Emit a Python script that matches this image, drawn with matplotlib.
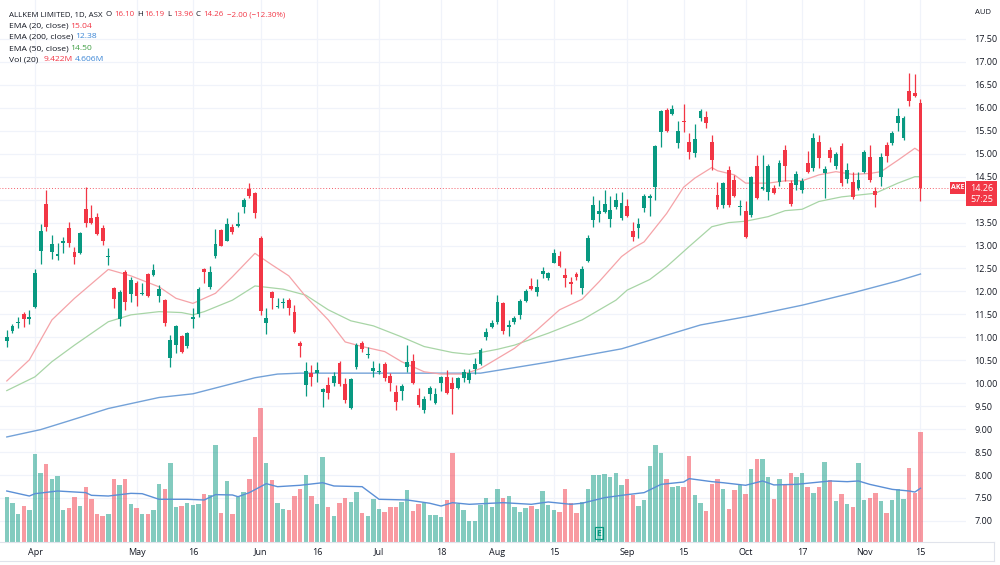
import numpy as np
import matplotlib
matplotlib.use('Agg')
import matplotlib.pyplot as plt
from matplotlib.patches import Rectangle
from matplotlib.lines import Line2D

plt.rcParams['font.family'] = ['Open Sans', 'DejaVu Sans']

# daily bars, 25 Mar 2022 .. 15 Nov 2022 (ASX trading days), index 0..162
opens = [10.91, 11.14, 11.31, 11.50, 11.40, 11.67, 12.89, 13.90, 12.85, 12.78,
         13.05, 13.39, 12.85, 12.84, 13.79, 13.59, 13.63, 13.38, 12.74, 12.08,
         11.41, 12.43, 11.94, 12.18, 11.95, 12.37, 12.36, 11.89, 11.81, 10.54,
         10.83, 11.04, 10.82, 11.41, 11.51, 12.49, 12.09, 12.78, 13.34, 13.10,
         13.41, 13.42, 13.83, 14.23, 14.15, 13.16, 11.32, 11.99, 11.66, 11.75,
         11.81, 11.56, 10.87, 9.96, 10.22, 10.22, 9.82, 9.96, 10.00, 10.45,
         9.98, 9.45, 10.35, 10.88, 10.61, 10.27, 10.24, 10.42, 10.16, 9.80,
         9.84, 10.35, 10.49, 9.74, 9.42, 9.76, 9.58, 10.00, 10.13, 10.00,
         9.90, 10.11, 10.07, 10.30, 10.43, 11.01, 11.23, 11.34, 11.75, 11.22,
         11.33, 11.49, 11.80, 12.12, 11.99, 12.38, 12.29, 12.63, 12.78, 12.36,
         12.21, 12.38, 12.07, 12.67, 13.56, 13.69, 13.74, 13.57, 13.85, 13.59,
         13.86, 13.32, 13.38, 13.81, 14.04, 14.28, 15.48, 15.95, 15.87, 15.23,
         15.72, 15.25, 15.01, 15.77, 15.79, 15.26, 14.10, 13.88, 14.65, 14.43,
         13.85, 13.76, 13.67, 14.73, 14.23, 14.17, 14.25, 14.39, 15.08, 14.37,
         14.32, 14.21, 14.79, 14.68, 15.26, 14.59, 15.08, 14.73, 15.17, 14.44,
         14.39, 14.26, 14.61, 14.94, 14.19, 14.49, 15.19, 15.23, 15.68, 15.34,
         16.37, 16.33, 16.10]
highs = [11.16, 11.29, 11.45, 11.56, 11.60, 12.49, 13.47, 14.20, 13.23, 13.05,
         13.19, 13.52, 12.96, 13.30, 14.27, 13.88, 13.72, 13.45, 12.94, 12.10,
         12.03, 12.47, 12.32, 12.23, 12.19, 12.41, 12.59, 12.14, 11.83, 11.05,
         11.27, 11.05, 11.12, 11.63, 12.09, 12.50, 12.55, 13.35, 13.35, 13.61,
         13.48, 13.74, 14.03, 14.37, 14.17, 13.21, 11.65, 12.02, 11.85, 11.85,
         11.86, 11.70, 10.91, 10.47, 10.40, 10.47, 9.89, 10.13, 10.25, 10.49,
         10.11, 10.11, 10.87, 10.91, 10.78, 10.49, 10.45, 10.47, 10.22, 9.96,
         9.98, 10.83, 10.63, 9.89, 9.72, 9.93, 9.89, 10.16, 10.29, 10.14,
         10.14, 10.31, 10.31, 10.56, 10.76, 11.20, 11.38, 11.92, 11.77, 11.38,
         11.47, 11.84, 12.05, 12.30, 12.27, 12.54, 12.43, 12.92, 12.88, 12.50,
         12.31, 12.43, 12.55, 13.23, 14.08, 13.99, 14.20, 14.08, 14.14, 14.17,
         14.01, 13.52, 13.59, 14.12, 14.12, 15.19, 15.95, 15.99, 16.06, 15.71,
         16.08, 15.45, 15.64, 15.97, 15.94, 15.41, 14.39, 14.39, 14.73, 14.54,
         13.99, 13.98, 14.52, 14.97, 14.97, 14.77, 14.31, 14.86, 15.19, 14.43,
         14.62, 14.47, 15.07, 15.45, 15.40, 14.73, 15.14, 15.03, 15.23, 14.80,
         14.61, 14.61, 15.08, 15.19, 14.28, 15.01, 15.26, 15.50, 15.99, 15.82,
         16.75, 16.73, 16.19]
lows = [10.80, 11.10, 11.20, 11.23, 11.29, 11.65, 12.60, 13.32, 12.70, 12.69,
        12.83, 12.96, 12.60, 12.82, 13.40, 13.48, 13.23, 13.01, 12.58, 11.63,
        11.25, 11.60, 11.78, 11.68, 11.92, 11.88, 12.34, 11.78, 11.25, 10.36,
        10.65, 10.65, 10.77, 11.20, 11.45, 12.19, 12.05, 12.72, 12.98, 13.09,
        13.26, 13.41, 13.70, 14.03, 13.61, 11.49, 11.07, 11.61, 11.63, 11.63,
        11.49, 11.10, 10.58, 9.73, 9.93, 10.03, 9.49, 9.65, 9.93, 9.93,
        9.56, 9.43, 10.30, 10.68, 10.54, 10.14, 10.20, 10.05, 9.84, 9.42,
        9.63, 10.25, 9.98, 9.48, 9.36, 9.63, 9.55, 9.84, 9.76, 9.33,
        9.87, 10.02, 10.00, 10.20, 10.40, 10.94, 11.20, 11.30, 11.08, 11.03,
        11.29, 11.40, 11.78, 12.03, 11.90, 12.30, 12.24, 12.61, 12.53, 12.10,
        11.94, 12.25, 11.94, 12.65, 13.41, 13.52, 13.70, 13.41, 13.80, 13.56,
        13.62, 13.11, 13.16, 13.74, 13.64, 13.99, 15.15, 15.48, 15.84, 15.13,
        15.48, 14.88, 14.92, 15.72, 15.56, 14.65, 13.79, 13.81, 13.85, 14.06,
        13.67, 13.16, 13.63, 14.01, 14.21, 13.99, 14.12, 14.30, 14.41, 13.87,
        14.21, 14.14, 14.57, 14.63, 14.68, 14.03, 14.82, 14.66, 14.30, 14.36,
        14.01, 14.22, 14.57, 14.39, 13.85, 14.30, 14.82, 15.19, 15.50, 15.30,
        16.03, 16.23, 13.96]
closes = [11.01, 11.25, 11.34, 11.40, 11.45, 12.40, 13.32, 13.40, 13.03, 12.81,
          13.10, 13.06, 12.76, 13.27, 13.50, 13.50, 13.25, 13.09, 12.77, 11.83,
          11.99, 11.78, 12.25, 11.90, 11.97, 11.89, 12.47, 12.05, 11.31, 10.94,
          11.25, 10.69, 11.09, 11.44, 12.05, 12.43, 12.42, 13.03, 12.99, 13.46,
          13.29, 13.48, 13.99, 14.08, 13.70, 11.58, 11.43, 11.85, 11.68, 11.77,
          11.63, 11.12, 10.81, 10.27, 10.13, 10.29, 9.87, 9.79, 10.16, 9.98,
          9.63, 10.09, 10.83, 10.75, 10.63, 10.33, 10.26, 10.11, 10.00, 9.60,
          9.94, 10.46, 10.00, 9.53, 9.65, 9.89, 9.77, 10.13, 9.79, 9.87,
          10.11, 10.24, 10.22, 10.43, 10.72, 11.12, 11.32, 11.78, 11.14, 11.27,
          11.42, 11.80, 12.01, 12.05, 12.09, 12.45, 12.40, 12.83, 12.55, 12.29,
          12.16, 12.32, 12.49, 13.16, 13.88, 13.75, 13.90, 13.77, 13.99, 13.92,
          13.64, 13.19, 13.48, 14.08, 14.08, 15.17, 15.94, 15.50, 15.97, 15.50,
          15.69, 15.04, 15.32, 15.94, 15.66, 14.86, 13.85, 14.36, 13.88, 14.08,
          13.87, 13.18, 14.49, 14.03, 14.28, 14.73, 14.14, 14.80, 14.73, 13.91,
          14.56, 14.41, 14.61, 15.35, 14.90, 14.66, 14.91, 14.99, 14.36, 14.65,
          14.06, 14.43, 15.04, 14.43, 14.10, 14.94, 14.95, 15.46, 15.82, 15.77,
          16.16, 16.26, 14.26]
# volume in millions
volume = [3.86, 3.30, 2.40, 3.10, 2.74, 7.50, 5.94, 6.66, 5.43, 5.63,
          2.74, 2.89, 3.83, 3.11, 4.74, 3.68, 2.43, 2.20, 2.37, 5.37,
          4.86, 5.43, 3.28, 2.89, 2.40, 2.40, 2.72, 4.94, 4.54, 6.80,
          3.00, 3.06, 3.37, 3.17, 3.26, 4.09, 4.03, 8.29, 2.51, 5.23,
          2.37, 3.86, 4.31, 5.43, 9.02, 11.46, 6.80, 5.31, 3.32, 2.86,
          2.74, 3.94, 4.51, 5.71, 3.94, 3.28, 7.28, 3.03, 2.23, 3.37,
          3.80, 3.43, 4.31, 2.51, 2.23, 3.66, 2.86, 2.57, 3.03, 3.03,
          3.43, 4.43, 2.66, 3.28, 3.37, 2.31, 2.31, 2.17, 3.60, 7.65,
          3.28, 2.72, 1.80, 1.80, 3.17, 3.74, 3.03, 4.51, 3.80, 3.94,
          3.00, 2.57, 2.91, 3.08, 2.86, 4.37, 3.17, 2.74, 2.57, 4.54,
          3.32, 2.49, 3.43, 4.51, 5.77, 5.71, 5.83, 5.60, 5.91, 4.86,
          5.37, 4.03, 3.06, 3.60, 6.49, 8.31, 7.63, 5.37, 4.74, 4.80,
          4.74, 7.34, 4.03, 3.34, 2.66, 5.00, 5.37, 4.57, 2.80, 4.43,
          4.86, 4.09, 6.28, 7.08, 7.08, 5.57, 3.71, 5.43, 4.86, 5.94,
          5.60, 5.94, 4.74, 4.23, 4.74, 6.86, 5.29, 3.51, 4.09, 3.28,
          3.00, 6.74, 3.57, 3.74, 4.23, 3.51, 2.51, 3.60, 4.51, 3.71,
          6.37, 4.17, 9.422]

# indicator lines (bar index, value)
ema20_idx = [0, 4, 8, 12, 18, 22, 27, 30, 33, 37, 40, 44, 47, 50, 53, 57, 60, 63, 67, 70,
             74, 77, 81, 84, 87, 90, 94, 98, 102, 105, 109, 111, 113, 117, 120, 122, 125,
             126, 129, 131, 135, 138, 141, 144, 147, 150, 153, 155, 158, 161, 162]
ema20_val = [10.05, 10.51, 11.38, 11.85, 12.48, 12.34, 12.10, 11.85, 11.74, 11.96, 12.32,
             12.83, 12.58, 12.34, 11.89, 11.38, 10.90, 10.80, 10.69, 10.47, 10.25, 10.20,
             10.20, 10.32, 10.54, 10.76, 11.16, 11.60, 11.83, 12.21, 12.76, 12.94, 13.08,
             13.70, 14.27, 14.47, 14.70, 14.63, 14.54, 14.36, 14.36, 14.41, 14.41, 14.54,
             14.61, 14.55, 14.57, 14.61, 14.86, 15.12, 15.04]
ema50_idx = [0, 5, 8, 12, 18, 22, 27, 31, 33, 35, 40, 44, 49, 53, 57, 61, 65, 70, 74, 79,
             82, 84, 87, 90, 96, 102, 108, 110, 114, 117, 121, 125, 128, 131, 135, 138,
             141, 144, 148, 151, 154, 156, 158, 161, 162]
ema50_val = [9.84, 10.14, 10.47, 10.83, 11.34, 11.49, 11.56, 11.54, 11.49, 11.56, 11.81,
             12.12, 12.05, 11.92, 11.60, 11.36, 11.25, 11.01, 10.80, 10.67, 10.63, 10.67,
             10.74, 10.83, 11.09, 11.38, 11.81, 12.03, 12.26, 12.54, 12.98, 13.41, 13.50,
             13.53, 13.63, 13.76, 13.79, 13.96, 14.06, 14.10, 14.14, 14.25, 14.36, 14.50,
             14.50]
ema200_idx = [0, 6, 11, 18, 27, 33, 39, 44, 48, 52, 70, 84, 96, 109, 123, 132, 141, 150,
              158, 162]
ema200_val = [8.83, 8.99, 9.18, 9.45, 9.69, 9.77, 9.96, 10.12, 10.20, 10.22, 10.22, 10.22,
              10.46, 10.75, 11.27, 11.47, 11.70, 11.97, 12.23, 12.38]
volma_idx = [0, 4, 5, 9, 14, 15, 18, 22, 24, 27, 32, 35, 37, 40, 41, 43, 46, 48, 52, 56,
             58, 63, 66, 71, 75, 77, 79, 82, 88, 93, 96, 100, 102, 106, 110, 113, 116, 120,
             121, 125, 127, 131, 134, 136, 140, 146, 149, 151, 153, 157, 160, 161, 162]
volma_val = [4.37, 3.94, 4.14, 4.37, 4.23, 4.00, 3.94, 4.17, 4.14, 3.66, 3.66, 3.60, 4.06,
             4.03, 3.88, 4.23, 5.00, 4.74, 4.86, 5.08, 4.80, 4.74, 3.66, 3.60, 3.32, 3.08,
             3.37, 3.23, 3.37, 3.23, 3.43, 3.23, 3.32, 3.80, 4.06, 4.23, 4.94, 5.14, 5.43,
             5.17, 5.08, 4.86, 5.23, 4.89, 4.94, 5.23, 5.17, 5.23, 4.94, 4.51, 4.37, 4.28,
             4.606]

tick_idx = [5, 23, 33, 45, 55, 66, 77, 87, 97, 110, 120, 131, 141, 152, 162]
tick_lab = ['Apr', 'May', '16', 'Jun', '16', 'Jul', '18', 'Aug', '15', 'Sep', '15',
            'Oct', '17', 'Nov', '15']
earnings_idx = 105

UP = '#089981'
DOWN = '#f23645'
TXT = '#131722'
GRID = '#f0f3fa'

W, H = 1000, 565
def fx(px):
    return px / W
def fy(py):
    return 1 - py / H

fig = plt.figure(figsize=(10, 5.65), dpi=100)
fig.patch.set_facecolor('white')
rect = [0, fy(542), fx(966), 542 / H]
ax = fig.add_axes(rect)
av = fig.add_axes(rect, sharex=ax)
av.axis('off')

x = np.arange(len(closes))
o = np.array(opens); c = np.array(closes)
h = np.array(highs); l = np.array(lows)
up = c >= o
cols = np.where(up, UP, DOWN)

# volume
av.bar(x, volume, width=0.78, color=cols, alpha=0.5, linewidth=0)
av.plot(volma_idx, volma_val, color='#5b8fd6', lw=1.0)
av.set_ylim(0, 542 / 11.67)

# moving averages
ax.plot(ema200_idx, ema200_val, color='#74a2d8', lw=1.0, zorder=2)
ax.plot(ema50_idx, ema50_val, color='#a8d5a6', lw=0.9, zorder=2)
ax.plot(ema20_idx, ema20_val, color='#f5a3a8', lw=0.9, zorder=2)

# candles
ax.vlines(x, l, h, colors=cols, lw=0.9, zorder=3)
body = np.maximum(np.abs(c - o), 0.018)
ax.bar(x, body, bottom=np.minimum(o, c), width=0.68, color=cols, linewidth=0, zorder=4)

# last price line
ax.hlines(closes[-1], -2, (951 - 6.8) / 5.64, colors=DOWN, linestyles=(0, (1, 2)),
          lw=0.7, alpha=0.8, zorder=1)

ax.set_xlim(-6.8 / 5.64, (966 - 6.8) / 5.64)
ax.set_ylim(17.5 - 503 / 45.9, 17.5 + 39 / 45.9)

yt = np.arange(7.0, 17.51, 0.5)
ax.set_yticks(yt)
ax.set_yticklabels(['' if abs(v - 14.0) < 1e-6 else f'{v:.2f}' for v in yt])
ax.set_xticks(tick_idx)
ax.set_xticklabels(tick_lab)
ax.yaxis.tick_right()
ax.tick_params(axis='y', length=0, pad=6, labelsize=6.5, labelcolor=TXT)
ax.tick_params(axis='x', length=0, pad=4, labelsize=6.5, labelcolor=TXT)
ax.grid(True, color=GRID, lw=0.9)
ax.set_axisbelow(True)
for s in ax.spines.values():
    s.set_visible(False)

# frame lines
fig.add_artist(Line2D([0, fx(994)], [fy(542), fy(542)], color='#e0e3eb', lw=0.8))
fig.add_artist(Line2D([0, fx(994)], [fy(561), fy(561)], color='#e0e3eb', lw=0.8))
fig.add_artist(Line2D([fx(994), fx(994)], [fy(542), fy(561)], color='#e0e3eb', lw=0.8))

# price labels on the scale
fig.text(fx(983), fy(13), 'AUD', ha='center', va='center', fontsize=5.5, color=TXT)
fig.add_artist(Rectangle((fx(950), fy(194)), fx(15), 12 / H, facecolor=DOWN,
                         edgecolor='none', transform=fig.transFigure))
fig.text(fx(957.5), fy(188), 'AKE', ha='center', va='center', fontsize=5,
         color='white', fontweight='bold')
fig.add_artist(Rectangle((fx(966), fy(206)), fx(31), 25 / H, facecolor=DOWN,
                         edgecolor='none', transform=fig.transFigure))
fig.text(fx(981.5), fy(188.5), f'{closes[-1]:.2f}', ha='center', va='center',
         fontsize=6.5, color='white')
fig.text(fx(981.5), fy(199.5), '57:25', ha='center', va='center', fontsize=6.5,
         color='white')

# earnings marker
ax.annotate('E', xy=(earnings_idx, 0), xycoords=('data', 'axes fraction'),
            xytext=(0, 9), textcoords='offset pixels', ha='center', va='center',
            fontsize=6, color=UP, fontweight='bold',
            bbox=dict(boxstyle='square,pad=0.2', fc='white', ec=UP, lw=0.9))

# legend block
chg = closes[-1] - closes[-2]
pct = chg / closes[-2] * 100
rows = [
    (15, 5.7, [('ALLKEM LIMITED, 1D, ASX', 9, TXT), ('O', 106, TXT),
               (f'{opens[-1]:.2f}', 111, DOWN), ('H', 137, TXT),
               (f'{highs[-1]:.2f}', 142, DOWN), ('L', 167, TXT),
               (f'{lows[-1]:.2f}', 171, DOWN), ('C', 196, TXT),
               (f'{closes[-1]:.2f}', 200.5, DOWN),
               (f'\u2212{abs(chg):.2f} (\u2212{abs(pct):.2f}%)', 227, DOWN)]),
    (26, 6.1, [('EMA (20, close)', 9, TXT), (f'{ema20_val[-1]:.2f}', 69, DOWN)]),
    (37, 6.1, [('EMA (200, close)', 9, TXT), (f'{ema200_val[-1]:.2f}', 73, '#3d87d6')]),
    (48.5, 6.1, [('EMA (50, close)', 9, TXT), (f'{ema50_val[-1]:.2f}', 69, '#43a047')]),
    (60, 6.1, [('Vol (20)', 9, TXT), (f'{volume[-1]:.3f}M', 44, DOWN),
               (f'{volma_val[-1]:.3f}M', 72, '#3d87d6')]),
]
renderer = fig.canvas.get_renderer()
for yy, fs, parts in rows:
    end = 0
    for s, xx, col in parts:
        xx = max(xx, end + 2)
        t = fig.text(fx(xx), fy(yy), s, ha='left', va='center', fontsize=fs, color=col)
        end = t.get_window_extent(renderer).x1

fig.savefig('out.png', dpi=100, facecolor='white')
